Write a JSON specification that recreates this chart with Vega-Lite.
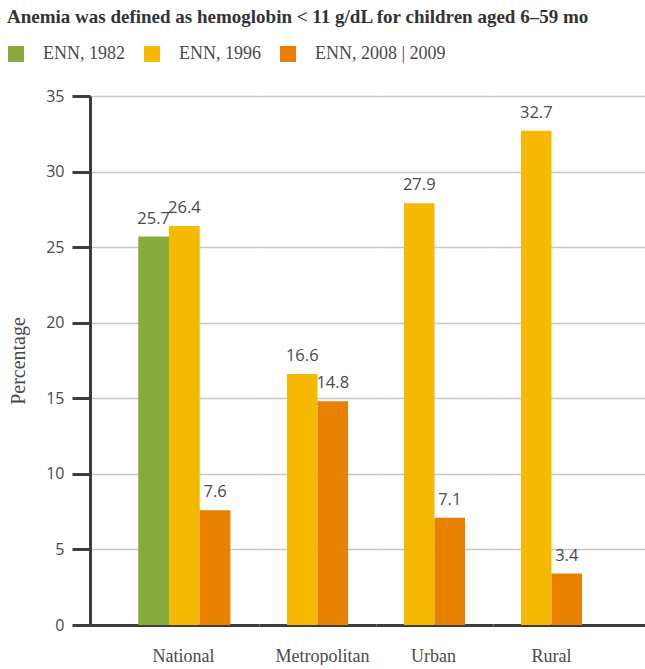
{
  "$schema": "https://vega.github.io/schema/vega-lite/v6.json",
  "padding": {"left": 7, "top": 8, "right": 0, "bottom": 0},
  "background": "white",
  "title": {
    "text": "Anemia was defined as hemoglobin < 11 g/dL for children aged 6–59 mo",
    "anchor": "start",
    "frame": "bounds",
    "font": "Liberation Serif",
    "fontSize": 19,
    "fontWeight": "bold",
    "color": "#333333",
    "offset": 18
  },
  "data": {
    "values": [
      {"region": "National", "series": "ENN, 1982", "value": 25.7},
      {"region": "National", "series": "ENN, 1996", "value": 26.4},
      {"region": "National", "series": "ENN, 2008 | 2009", "value": 7.6},
      {"region": "Metropolitan", "series": "ENN, 1996", "value": 16.6},
      {"region": "Metropolitan", "series": "ENN, 2008 | 2009", "value": 14.8},
      {"region": "Urban", "series": "ENN, 1996", "value": 27.9},
      {"region": "Urban", "series": "ENN, 2008 | 2009", "value": 7.1},
      {"region": "Rural", "series": "ENN, 1996", "value": 32.7},
      {"region": "Rural", "series": "ENN, 2008 | 2009", "value": 3.4}
    ]
  },
  "spacing": 0,
  "bounds": "flush",
  "resolve": {"scale": {"x": "independent", "y": "shared", "color": "shared"}},
  "hconcat": [
    {
      "width": 169, "height": 529,
      "transform": [{"filter": "datum.region === 'National'"}],
      "encoding": {
        "x": {"field": "series", "type": "nominal",
              "scale": {"domain": [" ", "ENN, 1982", "ENN, 1996", "ENN, 2008 | 2009"], "paddingInner": 0, "paddingOuter": 0.75, "align": 0.38},
              "axis": {"title": "National", "titleX": 93, "labels": false, "ticks": false}},
        "y": {"field": "value", "type": "quantitative", "scale": {"domain": [0, 35]},
              "axis": {"title": "Percentage", "values": [0, 5, 10, 15, 20, 25, 30, 35], "grid": true, "domain": true, "ticks": true, "labels": true}}
      },
      "layer": [
        {"mark": {"type": "bar"}, "encoding": {"color": {"field": "series", "type": "nominal",
          "scale": {"domain": ["ENN, 1982", "ENN, 1996", "ENN, 2008 | 2009"], "range": ["#86ab3a", "#f4b900", "#e88000"]},
          "legend": {"title": null, "orient": "none", "legendX": -83, "legendY": -51, "direction": "horizontal"}}}},
        {"mark": {"type": "text", "baseline": "bottom", "dy": -10, "font": "Open Sans", "fontSize": 16.5, "color": "#4a4a4a"},
         "encoding": {"text": {"field": "value", "type": "quantitative", "format": ".1f"}}}
      ]
    },
    {
      "width": 117, "height": 529,
      "transform": [{"filter": "datum.region === 'Metropolitan'"}],
      "encoding": {
        "x": {"field": "series", "type": "nominal", "sort": ["ENN, 1996", "ENN, 2008 | 2009"],
              "scale": {"paddingInner": 0, "paddingOuter": 0.918, "align": 0.5},
              "axis": {"title": "Metropolitan", "titleX": 63, "labels": false, "ticks": false}},
        "y": {"field": "value", "type": "quantitative", "scale": {"domain": [0, 35]},
              "axis": {"title": null, "values": [0, 5, 10, 15, 20, 25, 30, 35], "grid": true, "domain": false, "ticks": false, "labels": false}}
      },
      "layer": [
        {"mark": {"type": "bar"}, "encoding": {"color": {"field": "series", "type": "nominal"}}},
        {"mark": {"type": "text", "baseline": "bottom", "dy": -10, "font": "Open Sans", "fontSize": 16.5, "color": "#4a4a4a"},
         "encoding": {"text": {"field": "value", "type": "quantitative", "format": ".1f"}}}
      ]
    },
    {
      "width": 117, "height": 529,
      "transform": [{"filter": "datum.region === 'Urban'"}],
      "encoding": {
        "x": {"field": "series", "type": "nominal", "sort": ["ENN, 1996", "ENN, 2008 | 2009"],
              "scale": {"paddingInner": 0, "paddingOuter": 0.918, "align": 0.5},
              "axis": {"title": "Urban", "titleX": 57, "labels": false, "ticks": false}},
        "y": {"field": "value", "type": "quantitative", "scale": {"domain": [0, 35]},
              "axis": {"title": null, "values": [0, 5, 10, 15, 20, 25, 30, 35], "grid": true, "domain": false, "ticks": false, "labels": false}}
      },
      "layer": [
        {"mark": {"type": "bar"}, "encoding": {"color": {"field": "series", "type": "nominal"}}},
        {"mark": {"type": "text", "baseline": "bottom", "dy": -10, "font": "Open Sans", "fontSize": 16.5, "color": "#4a4a4a"},
         "encoding": {"text": {"field": "value", "type": "quantitative", "format": ".1f"}}}
      ]
    },
    {
      "width": 152, "height": 529,
      "transform": [{"filter": "datum.region === 'Rural'"}],
      "encoding": {
        "x": {"field": "series", "type": "nominal",
              "scale": {"domain": ["ENN, 1996", "ENN, 2008 | 2009", " "], "paddingInner": 0, "paddingOuter": 0.992, "align": 0.463},
              "axis": {"title": "Rural", "titleX": 58, "labels": false, "ticks": false}},
        "y": {"field": "value", "type": "quantitative", "scale": {"domain": [0, 35]},
              "axis": {"title": null, "values": [0, 5, 10, 15, 20, 25, 30, 35], "grid": true, "domain": false, "ticks": false, "labels": false}}
      },
      "layer": [
        {"mark": {"type": "bar"}, "encoding": {"color": {"field": "series", "type": "nominal"}}},
        {"mark": {"type": "text", "baseline": "bottom", "dy": -10, "font": "Open Sans", "fontSize": 16.5, "color": "#4a4a4a"},
         "encoding": {"text": {"field": "value", "type": "quantitative", "format": ".1f"}}}
      ]
    }
  ],
  "config": {
    "view": {"stroke": null},
    "axis": {
      "domainColor": "#3d3d3d", "domainWidth": 3,
      "tickColor": "#3d3d3d", "tickWidth": 3, "tickSize": 18,
      "gridColor": "#c8c8c8", "gridWidth": 1.5,
      "labelFont": "Open Sans", "labelFontSize": 16, "labelColor": "#4a4a4a", "labelPadding": 8,
      "titleFont": "Liberation Serif", "titleFontSize": 18, "titleFontWeight": "normal", "titleColor": "#4a4a4a"
    },
    "axisX": {"titlePadding": 22, "titleBaseline": "top"},
    "axisY": {"titlePadding": 17, "titleFontSize": 20},
    "legend": {
      "labelFont": "Liberation Serif", "labelFontSize": 18, "labelColor": "#4a4a4a",
      "symbolType": "square", "symbolSize": 256, "symbolStrokeWidth": 0, "symbolOpacity": 1,
      "labelOffset": 18, "columnPadding": 18
    }
  }
}
